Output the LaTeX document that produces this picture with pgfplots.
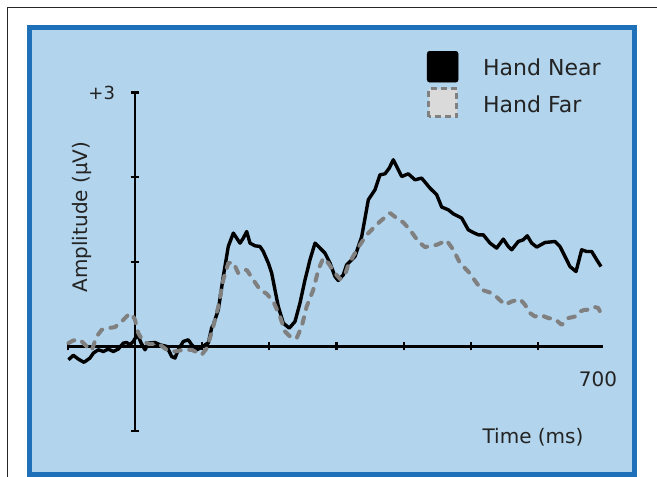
\documentclass[border=0pt]{standalone}
\usepackage{fontspec}
\setmainfont{DejaVu Sans}
\usepackage{pgfplots}
\usepackage{pgfplotstable}
\pgfplotsset{compat=1.18}
\definecolor{panelfill}{RGB}{178,212,236}
\definecolor{panelborder}{RGB}{30,112,184}
\definecolor{txt}{RGB}{35,35,35}
\definecolor{fargrey}{RGB}{128,128,128}
\definecolor{farfill}{RGB}{218,218,218}

\pgfplotstableread{
t v
-99 -0.158
-91.8 -0.105
-84.4 -0.150
-75.9 -0.188
-67 -0.138
-62 -0.079
-54.6 -0.040
-47.2 -0.060
-39.7 -0.032
-32.3 -0.060
-24.9 -0.032
-17.4 0.039
-12.4 0.046
-7.4 0.019
-2.5 0.058
3.7 0.143
8.9 0.043
14.9 -0.040
19.8 0.039
29.8 0.046
37.2 0.019
47.2 0.000
54.6 -0.119
59.5 -0.138
64.4 -0.040
71.9 0.058
79.3 0.078
84.4 0.019
91.8 -0.040
99.3 -0.010
106.7 0.031
109.1 0.039
114.1 0.220
116.5 0.255
124 0.433
131.4 0.826
138.8 1.181
146.3 1.339
151.3 1.280
156.3 1.221
161.2 1.280
166.2 1.358
171.1 1.221
178.6 1.189
186 1.181
190.9 1.122
198.4 0.985
203.4 0.866
208.3 0.669
213.2 0.472
220.7 0.275
229.6 0.216
238.1 0.294
245.5 0.512
253 0.787
260.4 1.024
267.9 1.221
275.3 1.162
282.7 1.103
290.2 0.985
297.6 0.826
302.5 0.779
310 0.846
315 0.965
327.4 1.063
337.4 1.299
347.2 1.733
357.1 1.851
364.6 2.028
372 2.040
378.4 2.108
384.4 2.206
389.4 2.126
396.9 2.008
406.7 2.040
416.7 1.969
426.6 1.989
439 1.871
449 1.792
456.4 1.647
466.2 1.615
473.7 1.567
486.2 1.517
496 1.378
503.4 1.346
510.9 1.319
518.3 1.319
528.3 1.221
538.2 1.162
548.1 1.268
555.5 1.181
560.6 1.142
570.4 1.240
577.8 1.260
583.8 1.307
590.3 1.221
597.8 1.174
610.1 1.228
625 1.240
632.4 1.181
639.9 1.063
647.3 0.944
656.3 0.885
664.7 1.142
672.2 1.122
679.6 1.122
687.1 1.024
693.5 0.944
}\nearTable

\pgfplotstableread{
t v
-99 0.039
-91.8 0.070
-81.8 0.078
-71.9 0.000
-64.4 -0.046
-57 0.117
-49.6 0.196
-39.7 0.216
-29.8 0.228
-19.8 0.294
-10 0.374
-4.9 0.385
0 0.314
4.9 0.157
12.4 0.058
19.8 0.031
29.8 0.027
37.2 0.019
47.2 -0.040
59.5 -0.060
71.9 -0.040
84.4 -0.040
94.2 -0.079
99.3 -0.099
106.7 -0.022
111.6 0.100
116.5 0.235
124 0.472
131.4 0.787
138.8 0.985
146.3 0.992
153.7 0.866
166.2 0.905
176 0.787
186 0.669
196 0.622
205.8 0.531
215.8 0.353
223.2 0.176
233.2 0.098
240.6 0.098
248.1 0.235
255.5 0.472
265.3 0.669
272.8 0.905
280.2 1.044
287.6 0.985
297.6 0.866
305.1 0.796
312.5 0.846
317.4 0.965
327.4 1.103
334.8 1.201
344.8 1.319
354.6 1.398
364.6 1.476
379.5 1.576
389.4 1.517
399.3 1.465
409.2 1.378
421.6 1.240
431.5 1.174
449 1.201
463.8 1.252
473.7 1.142
483.6 0.985
496 0.885
508.5 0.748
515.9 0.669
528.3 0.637
538.2 0.583
550.6 0.492
560.6 0.531
572.9 0.559
580.4 0.492
587.8 0.394
595.2 0.353
602.7 0.374
615 0.335
625 0.323
635 0.255
644.8 0.335
654.8 0.353
662.2 0.413
669.6 0.433
677.1 0.433
684.5 0.465
689.4 0.453
694.5 0.374
}\farTable

\begin{document}
\begin{tikzpicture}[x=1pt,y=1pt]
\useasboundingbox (0,0) rectangle (657,477);
\clip (0,0) rectangle (657,477);
\fill[white] (0,0) rectangle (657,477);
\draw[line width=1pt, black!85] (7,-2) -- (7,469) -- (660,469);
\draw[line width=5pt, draw=panelborder, fill=panelfill] (29.5,2) rectangle (634.5,449.5);
\begin{axis}[
  at={(67.8pt,46pt)}, anchor=south west,
  scale only axis, width=534.9pt, height=338.4pt,
  xmin=-100, xmax=696, ymin=-1, ymax=3,
  axis lines=middle,
  axis line style={-, line width=2.8pt, black},
  clip=false,
  xtick={-100,100,200,300,400,500,600},
  ytick={-1,1,2,3},
  xticklabels={}, yticklabels={},
  tick align=center,
  major tick length=8pt,
  every tick/.style={black, line width=2.2pt},
  legend cell align=left,
  legend style={at={(0.6715,1.1229)}, anchor=north west, draw=none, fill=none,
    inner sep=0pt, outer sep=0pt, font=\fontsize{22}{26}\selectfont, text=txt,
    row sep=5pt, nodes={inner sep=0pt, outer sep=0pt}},
]
\addlegendimage{legend image code/.code={\fill[black,rounded corners=2.5pt] (0pt,-14pt) rectangle (31pt,17pt); \path[draw=none,fill=none] (0pt,0pt) rectangle (56pt,0.1pt);}}
\addlegendentry{Hand Near}
\addlegendimage{legend image code/.code={\draw[fargrey, fill=farfill, line width=3pt, dash pattern=on 6pt off 4pt] (1.5pt,-12.5pt) rectangle (29.5pt,15.5pt); \path[draw=none,fill=none] (0pt,0pt) rectangle (56pt,0.1pt);}}
\addlegendentry{Hand Far}
\addplot[forget plot, black, line width=3.4pt, line join=round] table[x=t, y=v] {\nearTable};
\addplot[forget plot, fargrey, line width=4pt, line cap=round, line join=round, dash pattern=on 6.5pt off 8.5pt] table[x=t, y=v] {\farTable};
\end{axis}
\node[rotate=90, font=\fontsize{20}{24}\selectfont, text=txt] at (82,260) {Amplitude (µV)};
\node[font=\fontsize{20}{24}\selectfont, text=txt] at (533,40) {Time (ms)};
\node[font=\fontsize{20}{24}\selectfont, text=txt] at (598,98) {700};
\node[font=\fontsize{18}{21}\selectfont, text=txt, anchor=east] at (118.5,384) {+3};
\end{tikzpicture}
\end{document}
